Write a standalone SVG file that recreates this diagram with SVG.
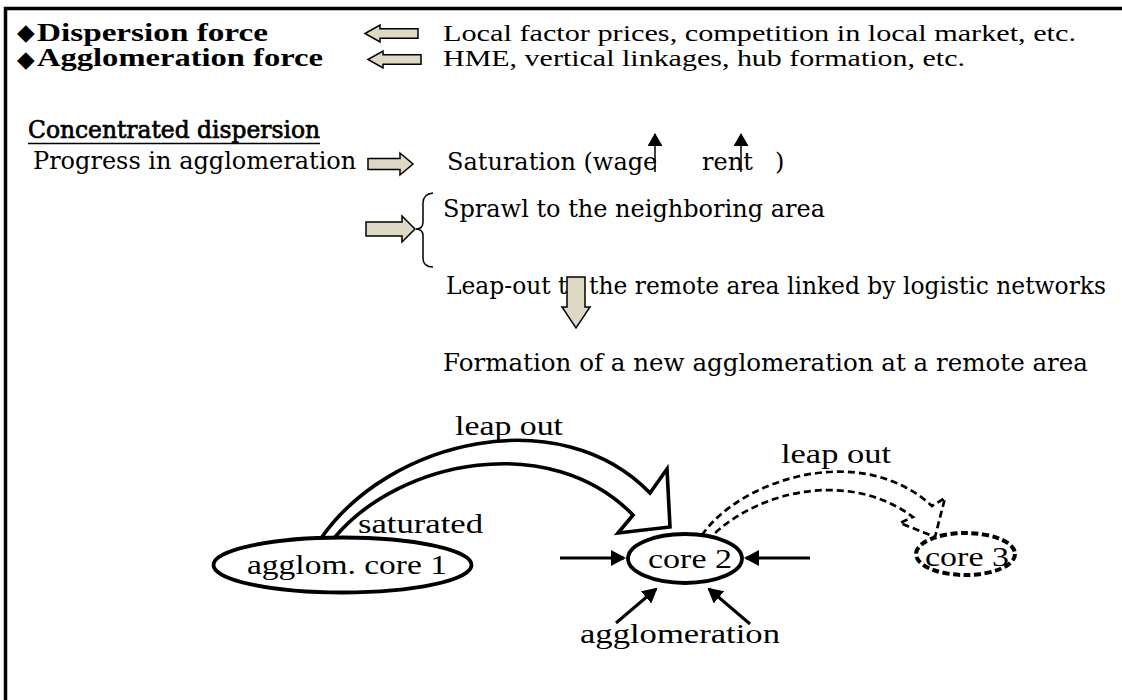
<svg xmlns="http://www.w3.org/2000/svg" width="1122" height="700" viewBox="0 0 1122 700">
<defs>
<style>
.tb{font-family:"Liberation Serif","Times New Roman",serif;font-weight:bold;font-size:25px;fill:#000}
.tr{font-family:"Liberation Serif","Times New Roman",serif;font-size:24px;fill:#000}
.dia{font-family:"DejaVu Sans",sans-serif;font-weight:normal;font-size:23px;letter-spacing:-4px}
.cs{font-family:"DejaVu Serif",serif;font-size:24px;fill:#000}
.cd{stroke:#000;stroke-width:0.7}
.tl{font-family:"Liberation Serif","Times New Roman",serif;font-size:28px;fill:#000}
.blk{fill:#DDD9C3;stroke:#000;stroke-width:1.5;stroke-linejoin:miter}
.thin{fill:none;stroke:#000;stroke-width:1.5}
.ell{fill:#fff;stroke:#000;stroke-width:3.8}
.ell3{fill:#fff;stroke:#000;stroke-width:4;stroke-dasharray:7 3.5}
.big{fill:#fff;stroke:#000;stroke-width:3.6;stroke-linejoin:miter}
.dot{fill:#fff;stroke:#000;stroke-width:2.7;stroke-dasharray:7 4;stroke-linejoin:miter}
.sa{fill:none;stroke:#000;stroke-width:3;marker-end:url(#ah)}
.ua{fill:none;stroke:#000;stroke-width:1.5;marker-end:url(#uh)}
</style>
<marker id="ah" viewBox="0 0 15 16" refX="13" refY="8" markerWidth="15" markerHeight="16" markerUnits="userSpaceOnUse" orient="auto">
<path d="M0,0 L15,8 L0,16 Z" fill="#000"/>
</marker>
<marker id="uh" viewBox="0 0 13 15" refX="12" refY="7.5" markerWidth="13" markerHeight="15" markerUnits="userSpaceOnUse" orient="auto">
<path d="M0,0 L13,7.5 L0,15 Z" fill="#000"/>
</marker>
</defs>
<rect x="5.5" y="8.5" width="1200" height="800" fill="none" stroke="#000" stroke-width="3.5"/>

<g id="dispersion-force">
<text class="tb" x="17" y="41"><tspan class="dia" dy="-1">◆</tspan> <tspan x="37" dy="1" textLength="231" lengthAdjust="spacingAndGlyphs">Dispersion force</tspan></text>
</g>
<g id="dispersion-factors">
<text class="tr" x="443" y="41" textLength="633" lengthAdjust="spacingAndGlyphs">Local factor prices, competition in local market, etc.</text>
</g>
<g id="agglomeration-force">
<text class="tb" x="17" y="66"><tspan class="dia" dy="1">◆</tspan> <tspan x="37" dy="-1" textLength="286" lengthAdjust="spacingAndGlyphs">Agglomeration force</tspan></text>
</g>
<g id="agglomeration-factors">
<text class="tr" x="443" y="66" textLength="522" lengthAdjust="spacingAndGlyphs">HME, vertical linkages, hub formation, etc.</text>
</g>

<g id="concentrated-dispersion">
<text class="cs cd" x="28" y="138" textLength="292" lengthAdjust="spacingAndGlyphs">Concentrated dispersion</text>
<line x1="28" y1="143.5" x2="320" y2="143.5" stroke="#000" stroke-width="1.5"/>
</g>
<g id="progress">
<text class="cs" x="33" y="169">Progress in agglomeration</text>
</g>
<g id="saturation">
<text class="cs" y="170"><tspan x="447">Saturation (wage</tspan> <tspan x="702">rent</tspan> <tspan x="775">)</tspan></text>
<path class="ua" d="M655,172 L655,134"/>
<path class="ua" d="M741,172 L741,134"/>
</g>
<g id="sprawl">
<text class="cs" x="443" y="217">Sprawl to the neighboring area</text>
</g>
<g id="leap-out-text">
<text class="cs" x="446" y="294" textLength="660" lengthAdjust="spacingAndGlyphs">Leap-out to the remote area linked by logistic networks</text>
</g>
<g id="formation">
<text class="cs" x="443" y="371" textLength="645" lengthAdjust="spacingAndGlyphs">Formation of a new agglomeration at a remote area</text>
</g>

<g id="connectors">
<path class="blk" d="M365,33.5 L380,25 L380,28.8 L418,28.8 L418,38.2 L380,38.2 L380,42 Z"/>
<path class="blk" d="M368,59.5 L383,51 L383,54.8 L421,54.8 L421,64.2 L383,64.2 L383,68 Z"/>
<path class="blk" d="M368,158.5 L400,158.5 L400,153 L413,164 L400,175 L400,169.5 L368,169.5 Z"/>
<path class="blk" d="M366,222 L402,222 L402,216 L415,229 L402,242 L402,236 L366,236 Z"/>
<path class="thin" d="M433,193 Q423,194 423,203 L423,222 Q423,229 416,229 Q423,229 423,236 L423,258 Q423,267 433,267"/>
<path class="blk" d="M567,277 L585,277 L585,307 L590,307 L576,328 L562,307 L567,307 Z"/>
<path class="big" d="M322,537 C390,440 560,400 650,493 L667,469 L670,527 L618,533 L633,515 C550,430 400,460 335,537"/>
<path class="dot" d="M702,535 C740,480 860,440 932,506 L945,498 L935,537 L900,523 L913,517 C850,470 760,490 713,535"/>
<path class="sa" d="M560,558 L624,558"/>
<path class="sa" d="M810,558 L746,558"/>
<path class="sa" d="M616,623 L656,589"/>
<path class="sa" d="M750,624 L709,589"/>
</g>

<g id="label-leap-out-1">
<text class="tl" x="455" y="435" textLength="108" lengthAdjust="spacingAndGlyphs">leap out</text>
</g>
<g id="label-saturated">
<text class="tl" x="358" y="533" textLength="125" lengthAdjust="spacingAndGlyphs">saturated</text>
</g>
<g id="label-leap-out-2">
<text class="tl" x="781" y="463" textLength="110" lengthAdjust="spacingAndGlyphs">leap out</text>
</g>
<g id="core1">
<ellipse class="ell" cx="342.5" cy="565" rx="129" ry="27.5"/>
<text class="tl" x="247" y="574" textLength="200" lengthAdjust="spacingAndGlyphs">agglom. core 1</text>
</g>
<g id="core2">
<ellipse class="ell" cx="685" cy="558.5" rx="57" ry="24.5"/>
<text class="tl" x="648" y="568" textLength="84" lengthAdjust="spacingAndGlyphs">core 2</text>
</g>
<g id="core3">
<ellipse class="ell3" cx="965.5" cy="554" rx="49.5" ry="21"/>
<text class="tl" x="925" y="566" textLength="84" lengthAdjust="spacingAndGlyphs">core 3</text>
</g>
<g id="label-agglomeration">
<text class="tl" x="580" y="643" textLength="200" lengthAdjust="spacingAndGlyphs">agglomeration</text>
</g>
</svg>
